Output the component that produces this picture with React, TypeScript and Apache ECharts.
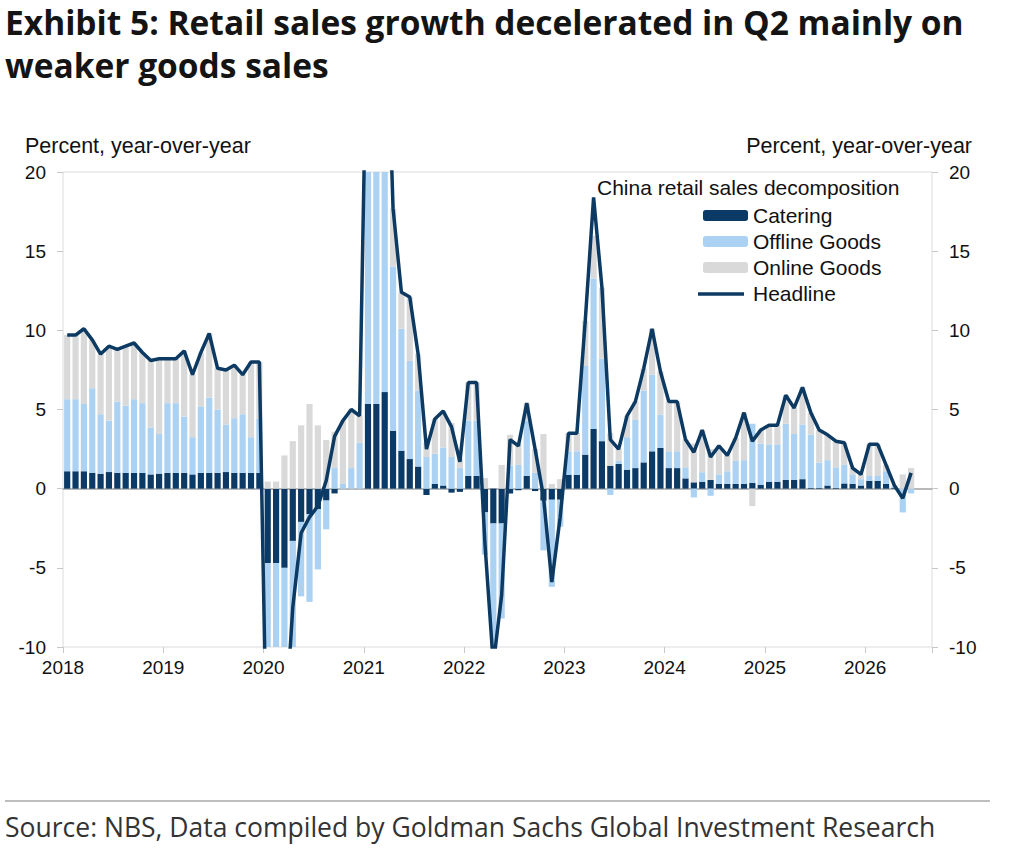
import React, { useEffect, useRef } from "react";
import * as echarts from "echarts";

// Month-by-month contributions to China retail sales growth (ppt), Jan 2018 - Jun 2026
const years = [2018, 2019, 2020, 2021, 2022, 2023, 2024, 2025, 2026];
const monthsShown = 104; // axis runs Jan 2018 through Aug 2026

const headline = [
  9.7, 9.7, 10.1, 9.4, 8.5, 9.0, 8.8, 9.0, 9.2, 8.6, 8.1, 8.2,
  8.2, 8.2, 8.7, 7.2, 8.6, 9.8, 7.6, 7.5, 7.8, 7.2, 8.0, 8.0,
  -20.5, -20.5, -15.8, -7.5, -2.8, -1.8, -1.1, 0.5, 3.3, 4.3, 5.0, 4.6,
  33.8, 33.8, 34.2, 17.7, 12.4, 12.1, 8.5, 2.5, 4.4, 4.9, 3.9, 1.7,
  6.7, 6.7, -3.5, -11.1, -6.7, 3.1, 2.7, 5.4, 2.5, -0.5, -5.9, -1.8,
  3.5, 3.5, 10.6, 18.4, 12.7, 3.1, 2.5, 4.6, 5.5, 7.6, 10.1, 7.4,
  5.5, 5.5, 3.1, 2.3, 3.7, 2.0, 2.7, 2.1, 3.2, 4.8, 3.0, 3.7,
  4.0, 4.0, 5.9, 5.1, 6.4, 4.8, 3.7, 3.4, 3.0, 2.9, 1.3, 0.9,
  2.8, 2.8, 1.5, 0.2, -0.6, 1.0,
];

const catering = [
  1.1, 1.1, 1.1, 1.0, 0.95, 1.05, 1.0, 1.0, 1.0, 1.0, 0.9, 0.95,
  1.0, 1.0, 1.0, 0.9, 1.0, 1.0, 1.0, 1.05, 1.0, 1.0, 1.0, 1.0,
  -4.7, -4.7, -5.0, -3.3, -2.1, -1.6, -1.3, -0.75, -0.3, 0.0, 0.0, 0.0,
  5.35, 5.35, 6.1, 3.66, 2.4, 1.87, 1.4, -0.4, 0.3, 0.2, -0.25, -0.2,
  0.8, 0.8, -1.5, -2.2, -2.2, -0.3, -0.1, 0.8, -0.15, -0.76, -0.7, -0.7,
  0.88, 0.88, 2.15, 3.77, 3.0, 1.45, 1.56, 1.2, 1.3, 1.66, 2.36, 2.57,
  1.3, 1.3, 0.65, 0.4, 0.44, 0.55, 0.3, 0.3, 0.3, 0.3, 0.36, 0.25,
  0.44, 0.44, 0.55, 0.55, 0.6, 0.05, 0.05, 0.2, 0.05, 0.33, 0.3, 0.2,
  0.5, 0.5, 0.3, 0.05, 0.0, 0.0,
];

const offlineGoods = [
  4.55, 4.55, 4.25, 5.35, 3.75, 3.25, 4.5, 4.25, 4.65, 4.4, 2.95, 2.5,
  4.4, 4.4, 3.55, 2.35, 4.2, 4.75, 4.0, 3.0, 3.45, 3.7, 2.25, 3.4,
  -16.25, -16.25, -12.9, -7.2, -4.7, -5.55, -3.8, -1.82, 1.3, 0.3, 1.3, 2.9,
  20.5, 20.5, 20.5, 10.35, 7.7, 6.2, 4.8, 2.0, 1.9, 2.4, 2.0, 1.3,
  3.5, 3.5, -2.67, -8.9, -6.0, 1.45, 1.5, 3.5, 1.0, -3.14, -5.5, -1.7,
  1.48, 1.48, 5.6, 9.5, 5.2, -0.4, 0.2, 2.05, 3.04, 4.54, 4.84, 2.1,
  1.06, 1.06, 0.7, -0.55, 0.6, -0.45, 0.6, 0.8, 1.45, 1.5, 3.74, 2.6,
  2.36, 2.36, 3.55, 2.9, 3.45, 3.35, 1.6, 1.6, 1.3, 1.17, 0.6, 0.4,
  0.3, 0.3, 0.8, 0.1, -1.5, -0.3,
];

const onlineGoods = [
  4.05, 4.05, 4.75, 3.05, 3.8, 4.7, 3.3, 3.75, 3.55, 3.2, 4.25, 4.75,
  2.8, 2.8, 4.15, 3.95, 3.4, 4.05, 2.6, 3.45, 3.35, 2.5, 4.75, 3.6,
  0.45, 0.45, 2.1, 3.0, 4.0, 5.35, 4.0, 3.07, 2.3, 4.0, 3.7, 1.7,
  7.95, 7.95, 7.6, 3.69, 2.3, 4.03, 2.3, 0.9, 2.2, 2.3, 2.15, 0.6,
  2.4, 2.4, 0.67, 0.0, 1.5, 1.95, 1.3, 1.1, 1.5, 3.45, 0.3, 0.6,
  1.14, 1.14, 2.85, 2.7, 4.5, 2.05, 0.74, 1.35, 1.16, 1.4, 2.9, 2.73,
  3.14, 3.14, 1.75, 2.45, 2.66, 1.95, 1.8, 1.0, 1.45, 3.0, -1.1, 0.85,
  1.2, 1.2, 1.8, 1.65, 2.35, 1.4, 2.05, 1.6, 1.65, 1.4, 0.4, 0.3,
  2.0, 2.0, 0.4, 0.05, 0.9, 1.3,
];

const yTicks = { min: -10, max: 20, interval: 5 };

const COLORS = {
  catering: "#0b3a66",
  offline: "#abd2f2",
  online: "#d9d9d9",
  headline: "#0c3a62",
  zero: "#a3a3a3",
  frame: "#dcdcdc",
  text: "#111111",
};

const CHART_FONT = "'Liberation Sans', Arial, sans-serif";
const HEAD_FONT = "'Open Sans', 'Noto Sans', sans-serif";

const months: string[] = [];
for (let i = 0; i < monthsShown; i++) {
  const y = years[Math.floor(i / 12)];
  const m = (i % 12) + 1;
  months.push(`${y}-${m < 10 ? "0" + m : m}`);
}

export default function App() {
  const ref = useRef<HTMLDivElement>(null);

  useEffect(() => {
    document.body.style.margin = "0";
    if (!ref.current) return;
    const chart = echarts.init(ref.current, undefined, { renderer: "svg" });

    const barCommon = {
      type: "bar" as const,
      stack: "total",
      barCategoryGap: "26%",
      xAxisIndex: 0,
      yAxisIndex: 0,
      clip: true,
    };

    const yAxisCommon = {
      type: "value" as const,
      min: yTicks.min,
      max: yTicks.max,
      interval: yTicks.interval,
      axisLine: { show: false },
      splitLine: { show: false },
      axisTick: { show: true, length: 6, lineStyle: { color: "#c8c8c8", width: 1 } },
      axisLabel: { fontSize: 19, color: COLORS.text, fontFamily: CHART_FONT, margin: 17 },
    };

    chart.setOption({
      animation: false,
      backgroundColor: "#ffffff",
      grid: {
        left: 63,
        right: 92,
        top: 172,
        bottom: 221,
        show: true,
        borderColor: COLORS.frame,
        borderWidth: 1,
        containLabel: false,
      },
      xAxis: [
        {
          type: "category",
          data: months,
          position: "bottom",
          axisLine: { show: true, onZero: true, lineStyle: { color: COLORS.zero, width: 1.5 } },
          axisTick: { show: false },
          axisLabel: { show: false },
          splitLine: { show: false },
        },
        {
          type: "value",
          min: 0,
          max: monthsShown,
          interval: 12,
          position: "bottom",
          axisLine: { show: false, onZero: false },
          axisTick: { show: true, length: 6, lineStyle: { color: "#c8c8c8", width: 1 } },
          splitLine: { show: false },
          axisLabel: {
            fontSize: 19,
            color: COLORS.text,
            fontFamily: CHART_FONT,
            margin: 11,
            formatter: (v: number) => (v % 12 === 0 ? String(years[0] + v / 12) : ""),
          },
        },
      ],
      yAxis: [
        { ...yAxisCommon, position: "left" },
        { ...yAxisCommon, position: "right" },
      ],
      legend: {
        orient: "vertical",
        left: 698,
        top: 200,
        itemWidth: 45,
        itemHeight: 11,
        itemGap: 5,
        selectedMode: false,
        data: [
          { name: "Catering" },
          { name: "Offline Goods" },
          { name: "Online Goods" },
          { name: "Headline", icon: "none" },
        ],
        textStyle: { fontSize: 21, color: COLORS.text, fontFamily: CHART_FONT, lineHeight: 21 },
      },
      series: [
        { ...barCommon, name: "Catering", data: catering, itemStyle: { color: COLORS.catering } },
        { ...barCommon, name: "Offline Goods", data: offlineGoods, itemStyle: { color: COLORS.offline } },
        { ...barCommon, name: "Online Goods", data: onlineGoods, itemStyle: { color: COLORS.online } },
        {
          type: "line",
          name: "Headline",
          data: headline,
          xAxisIndex: 0,
          yAxisIndex: 0,
          symbol: "none",
          clip: true,
          z: 5,
          lineStyle: { color: COLORS.headline, width: 3.5 },
          itemStyle: { color: COLORS.headline },
        },
      ],
      graphic: [
        {
          type: "text",
          left: 5,
          top: 5,
          style: {
            text: "Exhibit 5: Retail sales growth decelerated in Q2 mainly on",
            font: `700 33.5px ${HEAD_FONT}`,
            fill: "#141414",
          },
        },
        {
          type: "text",
          left: 5,
          top: 48,
          style: {
            text: "weaker goods sales",
            font: `700 33.5px ${HEAD_FONT}`,
            fill: "#141414",
          },
        },
        {
          type: "text",
          left: 25,
          top: 135,
          style: { text: "Percent, year-over-year", font: `21.5px ${CHART_FONT}`, fill: COLORS.text },
        },
        {
          type: "text",
          right: 52,
          top: 135,
          style: { text: "Percent, year-over-year", font: `21.5px ${CHART_FONT}`, fill: COLORS.text },
        },
        {
          type: "text",
          left: 597,
          top: 177,
          style: { text: "China retail sales decomposition", font: `21px ${CHART_FONT}`, fill: COLORS.text },
        },
        // headline key: a plain stroke in the legend slot
        {
          type: "line",
          shape: { x1: 698, y1: 294, x2: 744, y2: 294 },
          style: { stroke: COLORS.headline, lineWidth: 3.5 },
        },
        {
          type: "line",
          shape: { x1: 5, y1: 801, x2: 990, y2: 801 },
          style: { stroke: "#a8a8a8", lineWidth: 1.5 },
        },
        {
          type: "text",
          left: 5,
          top: 813,
          style: {
            text: "Source: NBS, Data compiled by Goldman Sachs Global Investment Research",
            font: `26.5px ${HEAD_FONT}`,
            fill: "#333333",
          },
        },
      ],
    });

    return () => chart.dispose();
  }, []);

  return <div ref={ref} style={{ width: 1024, height: 868 }} />;
}
